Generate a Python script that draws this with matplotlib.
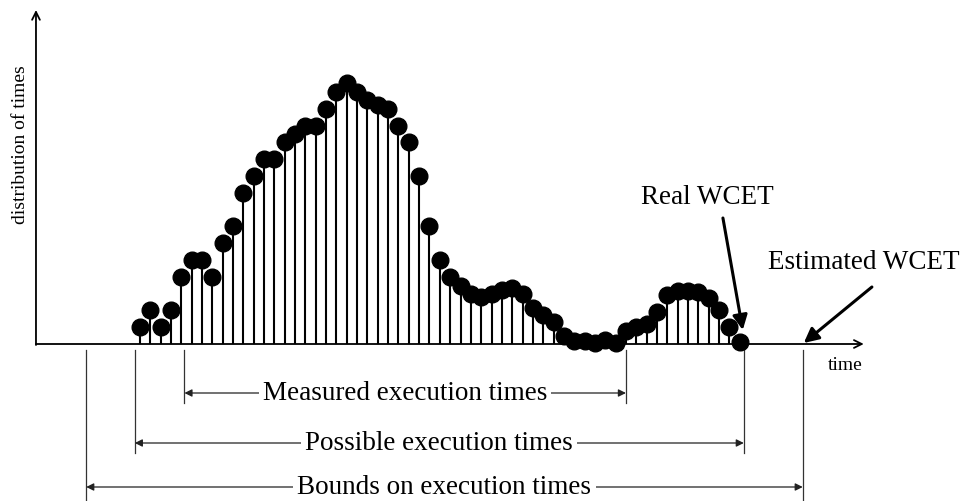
import matplotlib
matplotlib.use("Agg")
import matplotlib.pyplot as plt
import numpy as np

plt.rcParams['font.family'] = ['Liberation Serif', 'DejaVu Serif']

# Alturas (unidades arbitrarias, una por intervalo de tiempo)
heights = [17, 34, 17, 34, 67, 84, 84, 67, 101, 118,
           151, 168, 185, 185, 202, 210, 218, 218, 235, 252,
           261, 252, 244, 239, 235, 218, 202, 168, 118, 84,
           67, 58, 50, 47, 50, 54, 56, 50, 36, 29,
           22, 8, 3, 3, 1, 4, 1, 13, 17, 20,
           32, 49, 53, 53, 52, 46, 34, 17, 2]
t = np.arange(len(heights))

# Rangos (en unidades de tiempo) y sus etiquetas
range_labels = ["Measured execution times", "Possible execution times",
                "Bounds on execution times"]
range_start = [4.3, -0.5, -5.2]
range_end = [47.0, 58.4, 64.1]
real_wcet = 58.3
estimated_wcet = 64.2

fig = plt.figure(figsize=(9.63, 5.01), dpi=100)
ax = fig.add_axes([0, 0, 1, 1])
ax.set_xlim(-13.54, 79.6)
ax.set_ylim(-157, 344)
ax.axis('off')

# Histograma tipo stem
ml, sl, bl = ax.stem(t, heights, linefmt='k-', markerfmt='ko', basefmt=' ')
sl.set_linewidth(1.5)
ml.set_markersize(12)
ml.set_zorder(4)

# Ejes con flechas
x0 = -10.06
ax.annotate('', xy=(x0, 334), xytext=(x0, -1),
            arrowprops=dict(arrowstyle='->', lw=1.3, color='k',
                            mutation_scale=14, shrinkA=0, shrinkB=0))
ax.annotate('', xy=(70.0, 0), xytext=(x0, 0),
            arrowprops=dict(arrowstyle='->', lw=1.3, color='k',
                            mutation_scale=14, shrinkA=0, shrinkB=0))
ax.text(68.2, -21, "time", fontsize=14, ha='center', va='center')
ax.text(-11.6, 199, "distribution of times", fontsize=14, rotation=90,
        ha='center', va='center')

# Rangos de tiempos de ejecucion
line_y = [-49, -99, -143]
guide_bottom = [-59, -109, -160]
for lab, a, b, y, yb in zip(range_labels, range_start, range_end, line_y, guide_bottom):
    for xv in (a, b):
        ax.plot([xv, xv], [-6, yb], color='#333333', lw=0.9)
    ax.annotate('', xy=(a, y), xytext=(b, y),
                arrowprops=dict(arrowstyle='<|-|>', lw=0.9, color='#222222',
                                mutation_scale=11, shrinkA=0, shrinkB=0))
    ax.text((a + b) / 2, y - 7, lab, fontsize=19.5, ha='center', va='baseline',
            bbox=dict(fc='white', ec='none', pad=3))

# WCET real y estimado
ax.text(54.9, 147, "Real WCET", fontsize=19.5, ha='center', va='center')
ax.annotate('', xy=(real_wcet, 14), xytext=(56.38, 126),
            arrowprops=dict(arrowstyle='-|>', lw=2.2, color='k',
                            mutation_scale=22, shrinkA=0, shrinkB=0))
ax.text(70.0, 82, "Estimated WCET", fontsize=19.5, ha='center', va='center')
ax.annotate('', xy=(estimated_wcet, 1), xytext=(70.79, 57),
            arrowprops=dict(arrowstyle='-|>', lw=2.2, color='k',
                            mutation_scale=22, shrinkA=0, shrinkB=0))

fig.savefig("out.png", dpi=100)
